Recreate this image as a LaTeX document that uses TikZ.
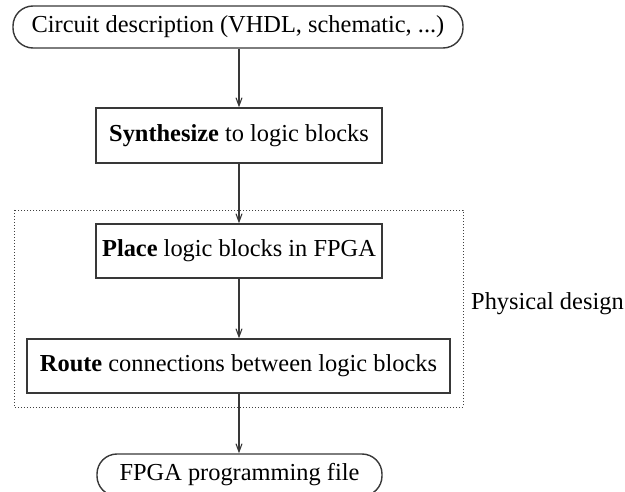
\documentclass[tikz,border=0pt]{standalone}
\usepackage{fontspec}
\setmainfont{Liberation Serif}
\usetikzlibrary{arrows.meta}
\begin{document}
\begin{tikzpicture}[x=1pt,y=-1pt,
  font=\fontsize{24.4}{28}\selectfont,
  line/.style={draw=black!78,line width=1.4pt},
  stepbox/.style={line,rectangle,inner sep=0pt,minimum height=54pt},
  terminal/.style={line,rectangle,rounded corners=20pt,inner sep=0pt,minimum height=42pt},
  flow/.style={line,-{Straight Barb[length=8pt,width=6pt,line width=1.1pt]}},
  region/.style={draw=black!75,line width=0.9pt,dash pattern=on 0.9pt off 2.1pt}]
\useasboundingbox (0,0) rectangle (625,492);

% dotted frame around the physical design steps
\draw[region] (14,210) rectangle (463,407);

\node[terminal,minimum width=450pt] (src) at (238,27) {Circuit description (VHDL, schematic, ...)};
\node[stepbox,minimum width=286pt,minimum height=55pt] (syn) at (239,135.5) {\textbf{Synthesize} to logic blocks};
\node[stepbox,minimum width=286pt] (plc) at (239,251) {\textbf{Place} logic blocks in FPGA};
\node[stepbox,minimum width=423pt] (rte) at (238.5,366) {\textbf{Route} connections between logic blocks};
\node[terminal,minimum width=285pt] (out) at (239.5,475) {FPGA programming file};

\node[anchor=west,inner sep=0pt] (phys) at (471,304) {Physical design};

\draw[flow] (src.south -| syn.north) -- (syn.north);
\draw[flow] (syn.south) -- (plc.north);
\draw[flow] (plc.south) -- (plc.south |- rte.north);
\draw[flow] (plc.south |- rte.south) -- (plc.south |- out.north);
\end{tikzpicture}
\end{document}
